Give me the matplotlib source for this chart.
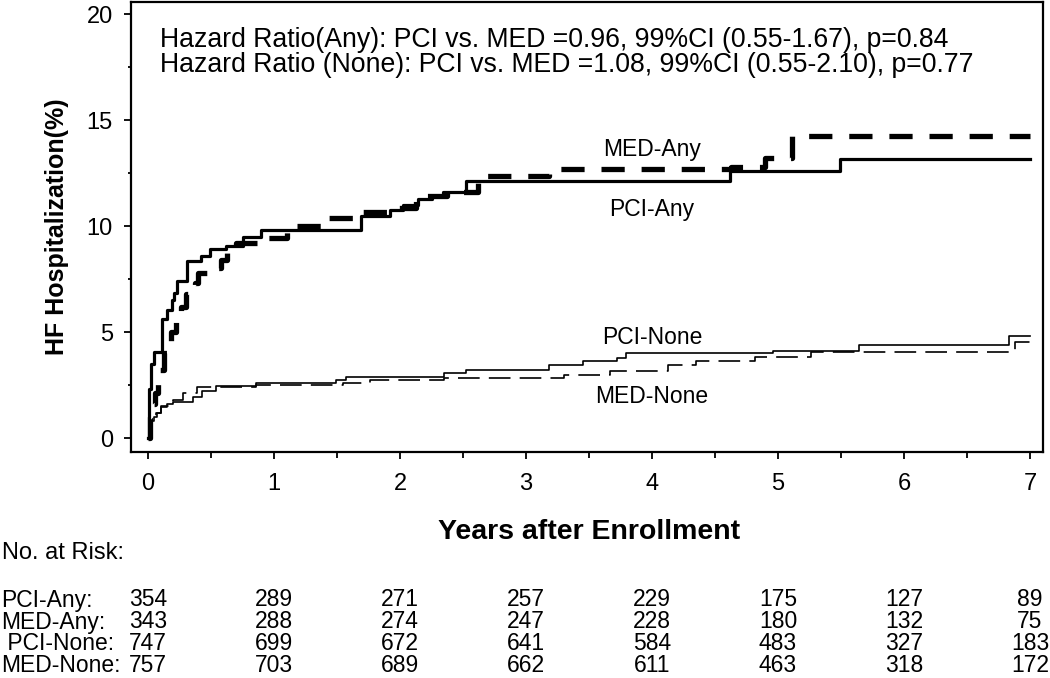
import numpy as np
import matplotlib.pyplot as plt
import matplotlib.transforms as mtransforms
from matplotlib.ticker import MultipleLocator

plt.rcParams['font.family'] = ['Liberation Sans', 'DejaVu Sans']

# step curves (years, % hospitalized)
pci_any_t = [0, 0.005, 0.01, 0.02, 0.045, 0.11, 0.15, 0.19, 0.21, 0.23, 0.31, 0.42, 0.49,
             0.62, 0.75, 0.90, 1.69, 1.92, 2.02, 2.14, 2.25, 2.34, 2.52, 4.62, 5.49, 7.0]
pci_any_y = [0, 1.0, 2.3, 3.5, 4.08, 5.6, 6.05, 6.5, 6.85, 7.39, 8.34, 8.57, 8.92,
             9.08, 9.47, 9.83, 10.46, 10.78, 11.0, 11.28, 11.4, 11.6, 12.12, 12.62, 13.18, 13.18]

med_any_t = [0, 0.016, 0.04, 0.055, 0.08, 0.095, 0.13, 0.15, 0.18, 0.22, 0.26, 0.30, 0.37,
             0.40, 0.52, 0.58, 0.63, 0.70, 0.90, 1.10, 1.41, 1.65, 1.92, 2.13, 2.37, 2.62,
             3.18, 4.63, 4.90, 5.11, 7.0]
med_any_y = [0, 1.0, 1.6, 2.1, 2.7, 3.2, 4.0, 4.4, 5.0, 5.5, 6.2, 6.8, 7.3,
             7.8, 8.0, 8.4, 9.0, 9.2, 9.45, 10.0, 10.4, 10.65, 10.87, 11.4, 11.6, 12.35,
             12.7, 12.78, 13.2, 14.23, 14.23]

pci_none_t = [0, 0.01, 0.025, 0.045, 0.07, 0.10, 0.15, 0.20, 0.36, 0.43, 0.54, 0.86, 1.49,
              1.57, 2.35, 2.52, 3.18, 3.45, 3.72, 3.79, 4.96, 5.64, 6.83, 7.0]
pci_none_y = [0, 0.5, 0.8, 1.0, 1.2, 1.45, 1.6, 1.72, 1.95, 2.2, 2.46, 2.59, 2.74,
              2.9, 3.06, 3.2, 3.45, 3.61, 3.77, 4.0, 4.11, 4.37, 4.82, 4.82]

med_none_t = [0, 0.01, 0.03, 0.06, 0.10, 0.20, 0.28, 0.39, 0.86, 1.55, 1.76, 2.35, 3.30,
              3.67, 4.13, 4.35, 4.82, 5.26, 6.88, 7.0]
med_none_y = [0, 0.4, 0.8, 1.2, 1.5, 1.8, 2.1, 2.43, 2.52, 2.6, 2.74, 2.85, 2.98,
              3.14, 3.45, 3.61, 3.81, 4.08, 4.55, 4.55]

risk_years = [0, 1, 2, 3, 4, 5, 6, 7]
risk_labels = ['PCI-Any:', 'MED-Any:', ' PCI-None:', 'MED-None:']
risk_counts = [
    [354, 289, 271, 257, 229, 175, 127, 89],
    [343, 288, 274, 247, 228, 180, 132, 75],
    [747, 699, 672, 641, 584, 483, 327, 183],
    [757, 703, 689, 662, 611, 463, 318, 172],
]

hr_lines = ['Hazard Ratio(Any): PCI vs. MED =0.96, 99%CI (0.55-1.67), p=0.84',
            'Hazard Ratio (None): PCI vs. MED =1.08, 99%CI (0.55-2.10), p=0.77']

W, H = 1050, 678
fig = plt.figure(figsize=(W / 100, H / 100), dpi=100)
ax = fig.add_axes([131 / W, 1 - 452 / H, (1043 - 131) / W, (452 - 2) / H])

ax.step(pci_any_t, pci_any_y, where='post', color='black', lw=2.3)
l_med_any, = ax.step(med_any_t, med_any_y, where='post', color='black', lw=3.8)
l_med_any.set_dashes((4.4, 3.2))
ax.step(pci_none_t, pci_none_y, where='post', color='black', lw=1.2)
l_med_none, = ax.step(med_none_t, med_none_y, where='post', color='black', lw=1.2)
l_med_none.set_dashes((13, 5.5))

ax.set_xlim(-0.135, 7.103)
ax.set_ylim(-0.66, 20.57)
ax.xaxis.set_major_locator(MultipleLocator(1))
ax.xaxis.set_minor_locator(MultipleLocator(0.5))
ax.yaxis.set_major_locator(MultipleLocator(5))
ax.yaxis.set_minor_locator(MultipleLocator(2.5))
ax.tick_params(which='major', direction='out', length=5, width=1.3, labelsize=17, pad=8)
ax.tick_params(axis='x', which='major', pad=10)
ax.tick_params(which='minor', direction='out', length=4, width=1.3)
ax.tick_params(axis='y', which='minor', length=2.5)
for s in ax.spines.values():
    s.set_linewidth(1.6)

ax.set_ylabel('HF Hospitalization(%)', fontsize=18, fontweight='bold', labelpad=13)

# curve labels
ax.text(4.0, 13.6, 'MED-Any', fontsize=16.5, ha='center', va='center')
ax.text(4.0, 10.8, 'PCI-Any', fontsize=16.5, ha='center', va='center')
ax.text(4.0, 4.75, 'PCI-None', fontsize=16.5, ha='center', va='center')
ax.text(4.0, 1.95, 'MED-None', fontsize=16.5, ha='center', va='center')

fig.text(160 / W, 1 - 40 / H, hr_lines[0], fontsize=19.2, va='center')
fig.text(160 / W, 1 - 65 / H, hr_lines[1], fontsize=19.2, va='center')

fig.text(589 / W, 1 - 532 / H, 'Years after Enrollment', fontsize=20.5,
         fontweight='bold', ha='center', va='center')
fig.text(2 / W, 1 - 553 / H, 'No. at Risk:', fontsize=17, va='center')

# at-risk table: x in data units, y in figure units
trans = mtransforms.blended_transform_factory(ax.transData, fig.transFigure)
row_py = [600, 622, 644, 666]
for lab, counts, py in zip(risk_labels, risk_counts, row_py):
    fig.text(1 / W, 1 - py / H, lab, fontsize=16.5, va='center')
    for yr, c in zip(risk_years, counts):
        ax.text(yr, 1 - py / H, str(c), transform=trans, fontsize=16.5,
                ha='center', va='center', clip_on=False)

fig.savefig('out.png', dpi=100)
